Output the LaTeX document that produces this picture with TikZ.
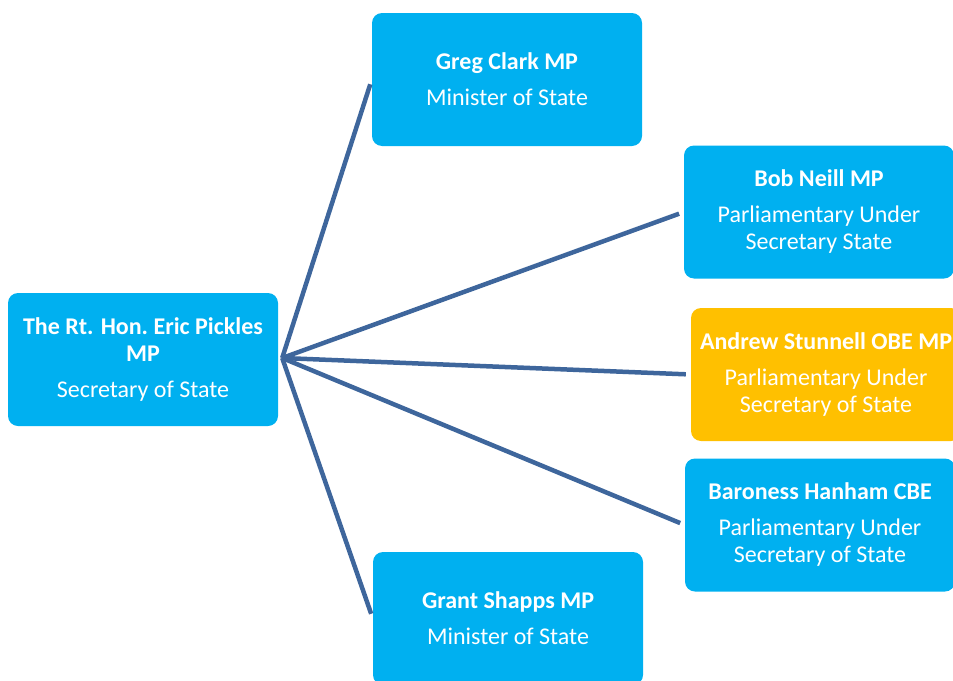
\documentclass[tikz,border=0pt]{standalone}
\usepackage{fontspec}
\setmainfont{Carlito}
\usetikzlibrary{calc}

\definecolor{boxblue}{RGB}{0,176,240}
\definecolor{boxgold}{RGB}{255,192,0}
\definecolor{linkblue}{RGB}{62,102,156}

\tikzset{
    post/.style={fill=boxblue, rounded corners=10pt, minimum width=270pt, minimum height=133pt,
        text=white, align=center, inner sep=0pt, font=\fontsize{24}{27}\selectfont},
    link/.style={draw=linkblue, line width=4.5pt, shorten >=5pt}
}

\begin{document}
\begin{tikzpicture}[x=1pt, y=-1pt]
    \clip (0,0) rectangle (953,680);

    \node[post] (pickles) at (143, 359.5) {\textbf{The Rt. Hon.\  Eric Pickles}\\\textbf{MP}\\[9pt]Secretary of State};

    \node[post] (greg) at (507, 79.5) {\textbf{Greg Clark MP}\\[9pt]Minister of State};
    \node[post] (neill) at (819, 212) {\textbf{Bob Neill MP}\\[9pt]Parliamentary Under\\Secretary State};
    \node[post, fill=boxgold] (stunnell) at (826, 374.5) {\textbf{Andrew Stunnell OBE MP}\\[9pt]Parliamentary Under\\Secretary of State};
    \node[post] (hanham) at (820, 525) {\textbf{Baroness Hanham CBE}\\[9pt]Parliamentary Under\\Secretary of State};
    \node[post] (shapps) at (508, 618.5) {\textbf{Grant Shapps MP}\\[9pt]Minister of State};

    \coordinate (hub) at ($(pickles.east) + (4, -1.5)$);

    \draw[link] (hub) -- (greg.west);
    \draw[link] (hub) -- (neill.west);
    \draw[link] (hub) -- (stunnell.west);
    \draw[link] (hub) -- (hanham.west);
    \draw[link] (hub) -- (shapps.west);
\end{tikzpicture}
\end{document}
